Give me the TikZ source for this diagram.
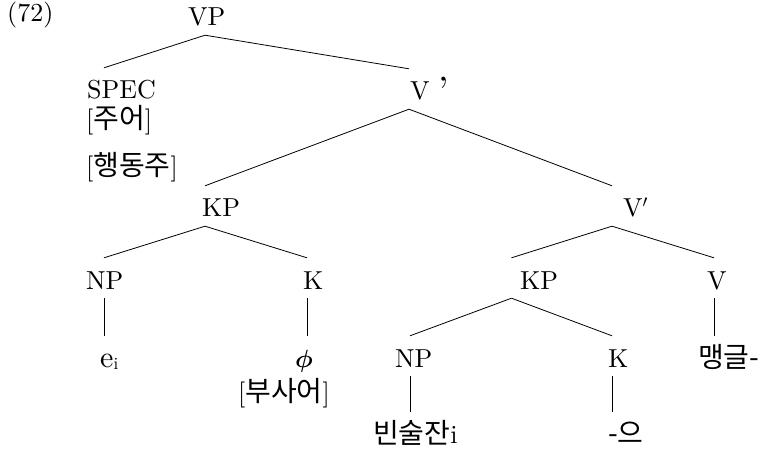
\documentclass[tikz,border=0pt]{standalone}
\usepackage{amsmath}
\usepackage{fontspec}
\setmainfont{lmroman10-regular}[Extension=.otf, BoldFont=lmroman10-bold, ItalicFont=lmroman10-italic]
\newfontfamily\krfont{Noto Sans CJK KR}
\newcommand\kr[1]{{\fontsize{28}{30}\krfont #1}}
\begin{document}
\begin{tikzpicture}[x=1pt,y=-1pt,
  lbl/.style={inner xsep=0pt, inner ysep=9pt, text height=22pt, text depth=0pt, anchor=base west,
    font=\fontsize{26}{30}\selectfont},
  edge/.style={line width=0.8pt, black}]
\useasboundingbox (0,0) rectangle (766,449);
% nodes
\node[lbl] (ex)    at (7,22)    {(72)};
\node[lbl] (VP)    at (188,26)  {VP};
\node[lbl] (SPEC)  at (87,99)   {SPEC};
\node[lbl] (subj)  at (86,128.5){[\kr{주어}]};
\node[lbl] (agent) at (86,175.5){[\kr{행동주}]};
\node[lbl] (Vb1)   at (410,100) {V \raisebox{-4pt}{\fontsize{38}{38}\selectfont ’}};
\node[lbl] (KP1)   at (202,217) {KP};
\node[lbl] (Vb2)   at (623,217) {V$'$};
\node[lbl] (NP1)   at (86,289)  {NP};
\node[lbl] (K1)    at (303,289) {K};
\node[lbl] (KP2)   at (520,289) {KP};
\node[lbl] (V)     at (707,289) {V};
\node[lbl] (ei)    at (100,367) {{\fontsize{30}{30}\selectfont e}{\fontsize{17}{17}\selectfont\raisebox{-2pt}{i}}};
\node[lbl] (phi)   at (295,367) {$\boldsymbol{\phi}$};
\node[lbl] (busa)  at (238,401) {[\kr{부사어}]};
\node[lbl] (NP2)   at (395,367) {NP};
\node[lbl] (K2)    at (608,367) {K};
\node[lbl] (mg)    at (698,367) {\kr{맹글-}};
\node[lbl] (bin)   at (373,443) {\kr{빈술잔}i};
\node[lbl] (eu)    at (608,443) {\kr{-으}};
% connectors
\draw[edge] ([xshift=17pt]VP.south west) -- ([xshift=17pt]SPEC.north west);
\draw[edge] ([xshift=17pt]VP.south west) -- ([xshift=-1pt]Vb1.north west);
\draw[edge] ([xshift=-1pt]Vb1.south west) -- ([xshift=3pt]KP1.north west);
\draw[edge] ([xshift=-1pt]Vb1.south west) -- ([xshift=-11pt]Vb2.north west);
\draw[edge] ([xshift=3pt]KP1.south west) -- ([xshift=18pt]NP1.north west);
\draw[edge] ([xshift=3pt]KP1.south west) -- ([xshift=4pt]K1.north west);
\draw[edge] ([xshift=-11pt]Vb2.south west) -- ([xshift=-8.5pt]KP2.north west);
\draw[edge] ([xshift=-11pt]Vb2.south west) -- ([xshift=7pt]V.north west);
\draw[edge] ([xshift=18pt]NP1.south west) -- ([xshift=4pt]ei.north west);
\draw[edge] ([xshift=4pt]K1.south west) -- ([xshift=12pt]phi.north west);
\draw[edge] ([xshift=-8.5pt]KP2.south west) -- ([xshift=15pt]NP2.north west);
\draw[edge] ([xshift=-8.5pt]KP2.south west) -- ([xshift=4pt]K2.north west);
\draw[edge] ([xshift=7pt]V.south west) -- ([xshift=16pt]mg.north west);
\draw[edge] ([xshift=15pt]NP2.south west) -- ([xshift=37pt]bin.north west);
\draw[edge] ([xshift=4pt]K2.south west) -- ([xshift=4pt]eu.north west);
\end{tikzpicture}
\end{document}
